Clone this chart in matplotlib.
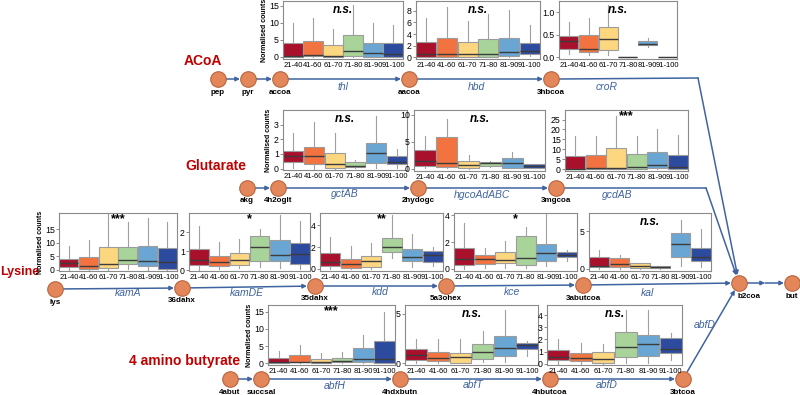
import matplotlib
matplotlib.use('Agg')
import matplotlib.pyplot as plt

plt.rcParams['font.family'] = ['Liberation Sans', 'DejaVu Sans']

# ================================== DADOS ==================================

grupos = ['21-40', '41-60', '61-70', '71-80', '81-90', '91-100']
cores = ['#a8102c', '#f2733f', '#fdd680', '#a8d49a', '#6aa6d3', '#2c4a9e']

# linhas: whisker inferior, q1, mediana, q3, whisker superior
thl = [[0, 0, 0, 0, 0, 0],
       [0.0, 0.2, 0.0, 0.2, 0.1, 0.1],
       [0.3, 0.6, 0.3, 1.7, 1.1, 1.0],
       [4.0, 4.7, 3.4, 6.3, 4.2, 4.0],
       [10.0, 11.5, 8.3, 15.2, 10.0, 9.5]]
hbd = [[0, 0, 0, 0, 0, 0.2],
       [0.0, 0.1, 0.0, 0.1, 0.3, 0.5],
       [0.5, 0.6, 0.5, 0.5, 0.9, 1.1],
       [2.7, 3.4, 2.7, 3.1, 3.3, 2.5],
       [6.8, 8.6, 6.3, 7.5, 8.1, 5.6]]
croR = [[0.07, 0.04, 0.05, 0, 0.23, 0],
        [0.19, 0.11, 0.17, 0, 0.27, 0],
        [0.36, 0.19, 0.40, 0, 0.30, 0],
        [0.48, 0.50, 0.67, 0, 0.36, 0],
        [0.78, 0.87, 1.16, 0, 0.43, 0]]
gctAB = [[0.05, 0.0, 0.0, 0.05, 0.05, 0.05],
         [0.46, 0.28, 0.05, 0.10, 0.35, 0.30],
         [0.85, 0.85, 0.30, 0.20, 1.05, 0.45],
         [1.22, 1.45, 1.08, 0.45, 1.75, 0.85],
         [2.42, 3.19, 2.45, 0.60, 3.62, 1.35]]
hgcoAdABC = [[0.1, 0.1, 0.0, 0.4, 0.1, 0.1],
             [0.5, 0.3, 0.1, 0.6, 0.2, 0.2],
             [1.5, 1.0, 0.75, 1.0, 1.1, 0.6],
             [3.56, 5.9, 1.37, 1.3, 2.0, 0.9],
             [6.06, 9.25, 2.5, 1.5, 3.2, 0.9]]
gcdAB = [[0, 0, 0, 0, 0, 0],
         [0.0, 0.0, 0.0, 0.2, 0.3, 0.2],
         [0.2, 0.5, 0.5, 0.8, 2.0, 0.8],
         [6.8, 7.0, 10.5, 7.8, 8.6, 7.3],
         [16.7, 16.8, 26.7, 16.5, 20.3, 17.2]]
kamA = [[0.1, 0, 0, 0.3, 0.1, 0],
        [1.2, 0.3, 0.6, 2.0, 1.3, 0.2],
        [2.4, 1.6, 2.3, 3.7, 3.2, 3.0],
        [4.1, 4.8, 8.5, 8.3, 8.9, 8.2],
        [8.9, 11.0, 20.5, 17.7, 19.3, 17.5]]
kamDE = [[0.0, 0.05, 0.1, 0.15, 0.1, 0.05],
         [0.28, 0.2, 0.25, 0.45, 0.48, 0.34],
         [0.55, 0.42, 0.55, 1.2, 0.81, 0.83],
         [1.1, 0.75, 0.9, 1.8, 1.56, 1.42],
         [2.3, 1.5, 1.65, 2.15, 2.9, 2.56]]
kdd = [[0.0, 0.0, 0.0, 1.0, 0.2, 0.3],
       [0.29, 0.05, 0.2, 1.56, 0.7, 0.6],
       [0.6, 0.4, 0.7, 1.97, 1.1, 1.3],
       [1.47, 0.94, 1.2, 2.88, 1.8, 1.65],
       [2.94, 2.1, 2.35, 4.94, 3.2, 2.0]]
kce = [[0.0, 0.1, 0.1, 0.1, 0.2, 0.6],
       [0.29, 0.35, 0.45, 0.3, 0.6, 0.86],
       [0.75, 0.75, 0.65, 0.85, 1.2, 1.07],
       [1.55, 1.02, 1.25, 2.45, 1.86, 1.26],
       [3.45, 1.6, 2.05, 3.1, 4.1, 1.4]]
kal = [[0, 0, 0, 0, 0.3, 0.2],
       [0.2, 0.2, 0.1, 0.05, 1.5, 1.0],
       [0.4, 0.6, 0.4, 0.2, 3.3, 1.6],
       [1.6, 1.4, 0.7, 0.4, 4.8, 2.8],
       [2.5, 1.8, 0.7, 0.4, 6.5, 5.3]]
abfH = [[0, 0, 0, 0, 0, 0],
        [0.2, 0.3, 0.1, 0.3, 0.3, 0.1],
        [0.5, 0.5, 0.5, 0.7, 1.3, 1.3],
        [1.5, 2.4, 1.2, 1.6, 4.4, 6.4],
        [3.65, 5.4, 3.1, 3.3, 8.3, 15.0]]
abfT = [[0.0, 0.0, 0.0, 0.1, 0.1, 0.7],
        [0.3, 0.2, 0.0, 0.4, 0.7, 1.4],
        [0.8, 0.5, 0.6, 1.1, 1.5, 1.8],
        [1.4, 1.1, 1.0, 1.9, 2.7, 2.0],
        [2.4, 2.4, 2.4, 3.3, 5.4, 2.2]]
abfD = [[0.0, 0.0, 0.0, 0.1, 0.1, 0.3],
        [0.3, 0.2, 0.1, 0.55, 0.65, 0.9],
        [0.55, 0.5, 0.4, 1.4, 1.65, 1.25],
        [1.1, 0.9, 0.95, 2.6, 2.4, 2.1],
        [2.0, 1.75, 1.6, 4.4, 4.4, 2.5]]

# ================================== LAYOUT ==================================

W, H = 800, 395
AZUL = '#3f64a0'
VERMELHO = '#c00000'

# (dados, caixa em pixels x0, y0, x1, y1, ylim, yticks, significancia, rotulo y)
paineis = [
    (thl, (283, 1, 403, 59), (-0.6, 16.4), [0, 5, 10, 15], 'n.s.', True),
    (hbd, (416, 1, 540, 59), (-0.3, 9.7), [0, 2, 4, 6, 8], 'n.s.', False),
    (croR, (559, 1, 677, 59), (-0.04, 1.25), [0.0, 0.5, 1.0], 'n.s.', False),
    (gctAB, (283, 110, 407, 170), (-0.1, 4.0), [0, 1, 2, 3], 'n.s.', True),
    (hgcoAdABC, (414, 110, 545, 171), (-0.4, 10.9), [0, 5, 10], 'n.s.', False),
    (gcdAB, (565, 110, 688, 171), (-1.0, 29.8), [0, 5, 10, 15, 20, 25], '***', False),
    (kamA, (59, 213, 177, 271), (-0.4, 21.0), [0, 5, 10, 15], '***', True),
    (kamDE, (189, 213, 310, 271), (-0.05, 3.0), [0, 1, 2], '*', False),
    (kdd, (320, 213, 443, 271), (-0.2, 5.15), [0, 2, 4], '**', False),
    (kce, (454, 213, 577, 271), (-0.15, 4.17), [0, 2, 4], '*', False),
    (kal, (589, 213, 711, 271), (-0.3, 7.4), [0, 5], 'n.s.', False),
    (abfH, (268, 305, 395, 365), (-0.5, 17.0), [0, 5, 10, 15], '***', True),
    (abfT, (405, 305, 538, 365), (-0.2, 5.9), [0, 5], 'n.s.', False),
    (abfD, (547, 305, 682, 365), (-0.1, 4.84), [0, 1, 2, 3, 4], 'n.s.', False),
]

nos = {
    'pep': (218, 79), 'pyr': (248, 79), 'accoa': (280, 79), 'aacoa': (409, 79), '3hbcoa': (551, 79),
    'akg': (247, 188), '4h2oglt': (278, 188), '2hydogc': (418, 188), '3mgcoa': (556, 188),
    'lys': (55, 289), '36dahx': (182, 288), '35dahx': (315, 286), '5a3ohex': (446, 286),
    '3abutcoa': (583, 285), 'b2coa': (739, 283), 'but': (792, 283),
    '4abut': (230, 379), 'succsal': (261, 379), '4hdxbutn': (400, 379), '4hbutcoa': (550, 379),
    '3btcoa': (683, 379),
}

enzimas = [('thl', 343, 87), ('hbd', 476, 87), ('croR', 607, 87),
           ('gctAB', 345, 194), ('hgcoAdABC', 482, 195), ('gcdAB', 617, 195),
           ('kamA', 128, 293), ('kamDE', 247, 293), ('kdd', 380, 292), ('kce', 512, 292),
           ('kal', 647, 293), ('abfH', 335, 386), ('abfT', 473, 385), ('abfD', 607, 385),
           ('abfD', 705, 325)]

# (texto, x, y, alinhamento, tamanho)
vias = [('ACoA', 203, 61, 'center', 10), ('Glutarate', 216, 166, 'center', 10),
        ('Lysine', 0, 272, 'left', 9), ('4 amino butyrate', 185, 361, 'center', 10)]


# ================================== FUNÇÕES ==================================


def seta(ax, p, q, ra=8, rb=8):
    ax.annotate('', xy=q, xytext=p,
                arrowprops=dict(arrowstyle='-|>', color=AZUL, lw=1.1, mutation_scale=6,
                                shrinkA=ra * 0.72, shrinkB=rb * 0.72))


def desenhar_painel(fig, dados, caixa, ylim, yticks, sig, rotulo):
    x0, y0, x1, y1 = caixa
    ax = fig.add_axes([x0 / W, 1 - y1 / H, (x1 - x0) / W, (y1 - y0) / H])
    stats = []
    for i in range(len(grupos)):
        stats.append(dict(whislo=dados[0][i], q1=dados[1][i], med=dados[2][i],
                          q3=dados[3][i], whishi=dados[4][i], fliers=[]))
    bp = ax.bxp(stats, positions=range(1, 7), widths=0.97, patch_artist=True, showcaps=False,
                boxprops=dict(edgecolor='#9c9c9c', linewidth=0.8),
                medianprops=dict(color='#3c3c3c', linewidth=1.0),
                whiskerprops=dict(color='#a0a0a0', linewidth=0.8))
    for caixa_box, cor in zip(bp['boxes'], cores):
        caixa_box.set_facecolor(cor)
    ax.set_xlim(0.5, 6.5)
    ax.set_ylim(*ylim)
    ax.set_yticks(yticks)
    ax.set_xticks(range(1, 7))
    ax.set_xticklabels(grupos)
    ax.tick_params(axis='x', labelsize=5.5, length=0, pad=2)
    ax.tick_params(axis='y', labelsize=6.3, length=2, pad=1, width=0.6, color='#777777')
    for s in ax.spines.values():
        s.set_color('#8a8a8a')
        s.set_linewidth(0.8)
    if sig == 'n.s.':
        ax.text(0.5, 0.95, sig, transform=ax.transAxes, ha='center', va='top',
                fontsize=8.5, fontweight='bold', style='italic')
    else:
        ax.text(0.5, 1.0, sig, transform=ax.transAxes, ha='center', va='top',
                fontsize=9, fontweight='bold')
    if rotulo:
        ax.set_ylabel('Normalised counts', fontsize=5, fontweight='bold', labelpad=1)
    return ax


# ================================== FIGURA ==================================

fig = plt.figure(figsize=(W / 100, H / 100), dpi=100)
bg = fig.add_axes([0, 0, 1, 1])
bg.set_xlim(0, W)
bg.set_ylim(H, 0)
bg.axis('off')

# caminhos
cadeias = [['pep', 'pyr', 'accoa', 'aacoa', '3hbcoa'],
           ['akg', '4h2oglt', '2hydogc', '3mgcoa'],
           ['lys', '36dahx', '35dahx', '5a3ohex', '3abutcoa', 'b2coa'],
           ['4abut', 'succsal', '4hdxbutn', '4hbutcoa', '3btcoa', 'b2coa']]
for cadeia in cadeias:
    for a, b in zip(cadeia[:-1], cadeia[1:]):
        seta(bg, nos[a], nos[b])

# desvios ate b2coa
for origem, quina in [('3hbcoa', (698, 78)), ('3mgcoa', (706, 188))]:
    p = nos[origem]
    bg.plot([p[0] + 8, quina[0]], [p[1], quina[1]], color=AZUL, lw=1.1)
    seta(bg, quina, nos['b2coa'], ra=0)

meio = (765, 283)
seta(bg, nos['b2coa'], meio, rb=0)
seta(bg, meio, nos['but'], ra=0)

xs = [v[0] for v in nos.values()]
ys = [v[1] for v in nos.values()]
bg.scatter(xs, ys, s=125, color='#e3875a', edgecolor='#b9643e', linewidth=0.8, zorder=5)
for nome, (x, y) in nos.items():
    dx = 10 if nome == 'b2coa' else 0
    bg.text(x + dx, y + 13, nome, ha='center', va='center', fontsize=5.8, fontweight='bold')

for nome, x, y in enzimas:
    bg.text(x, y, nome, ha='center', va='center', fontsize=7.5, style='italic', color=AZUL)

for nome, x, y, alinhamento, tamanho in vias:
    bg.text(x, y, nome, ha=alinhamento, va='center', fontsize=tamanho, fontweight='bold',
            color=VERMELHO)

for dados, caixa, ylim, yticks, sig, rotulo in paineis:
    desenhar_painel(fig, dados, caixa, ylim, yticks, sig, rotulo)

fig.savefig('out.png', dpi=100)
